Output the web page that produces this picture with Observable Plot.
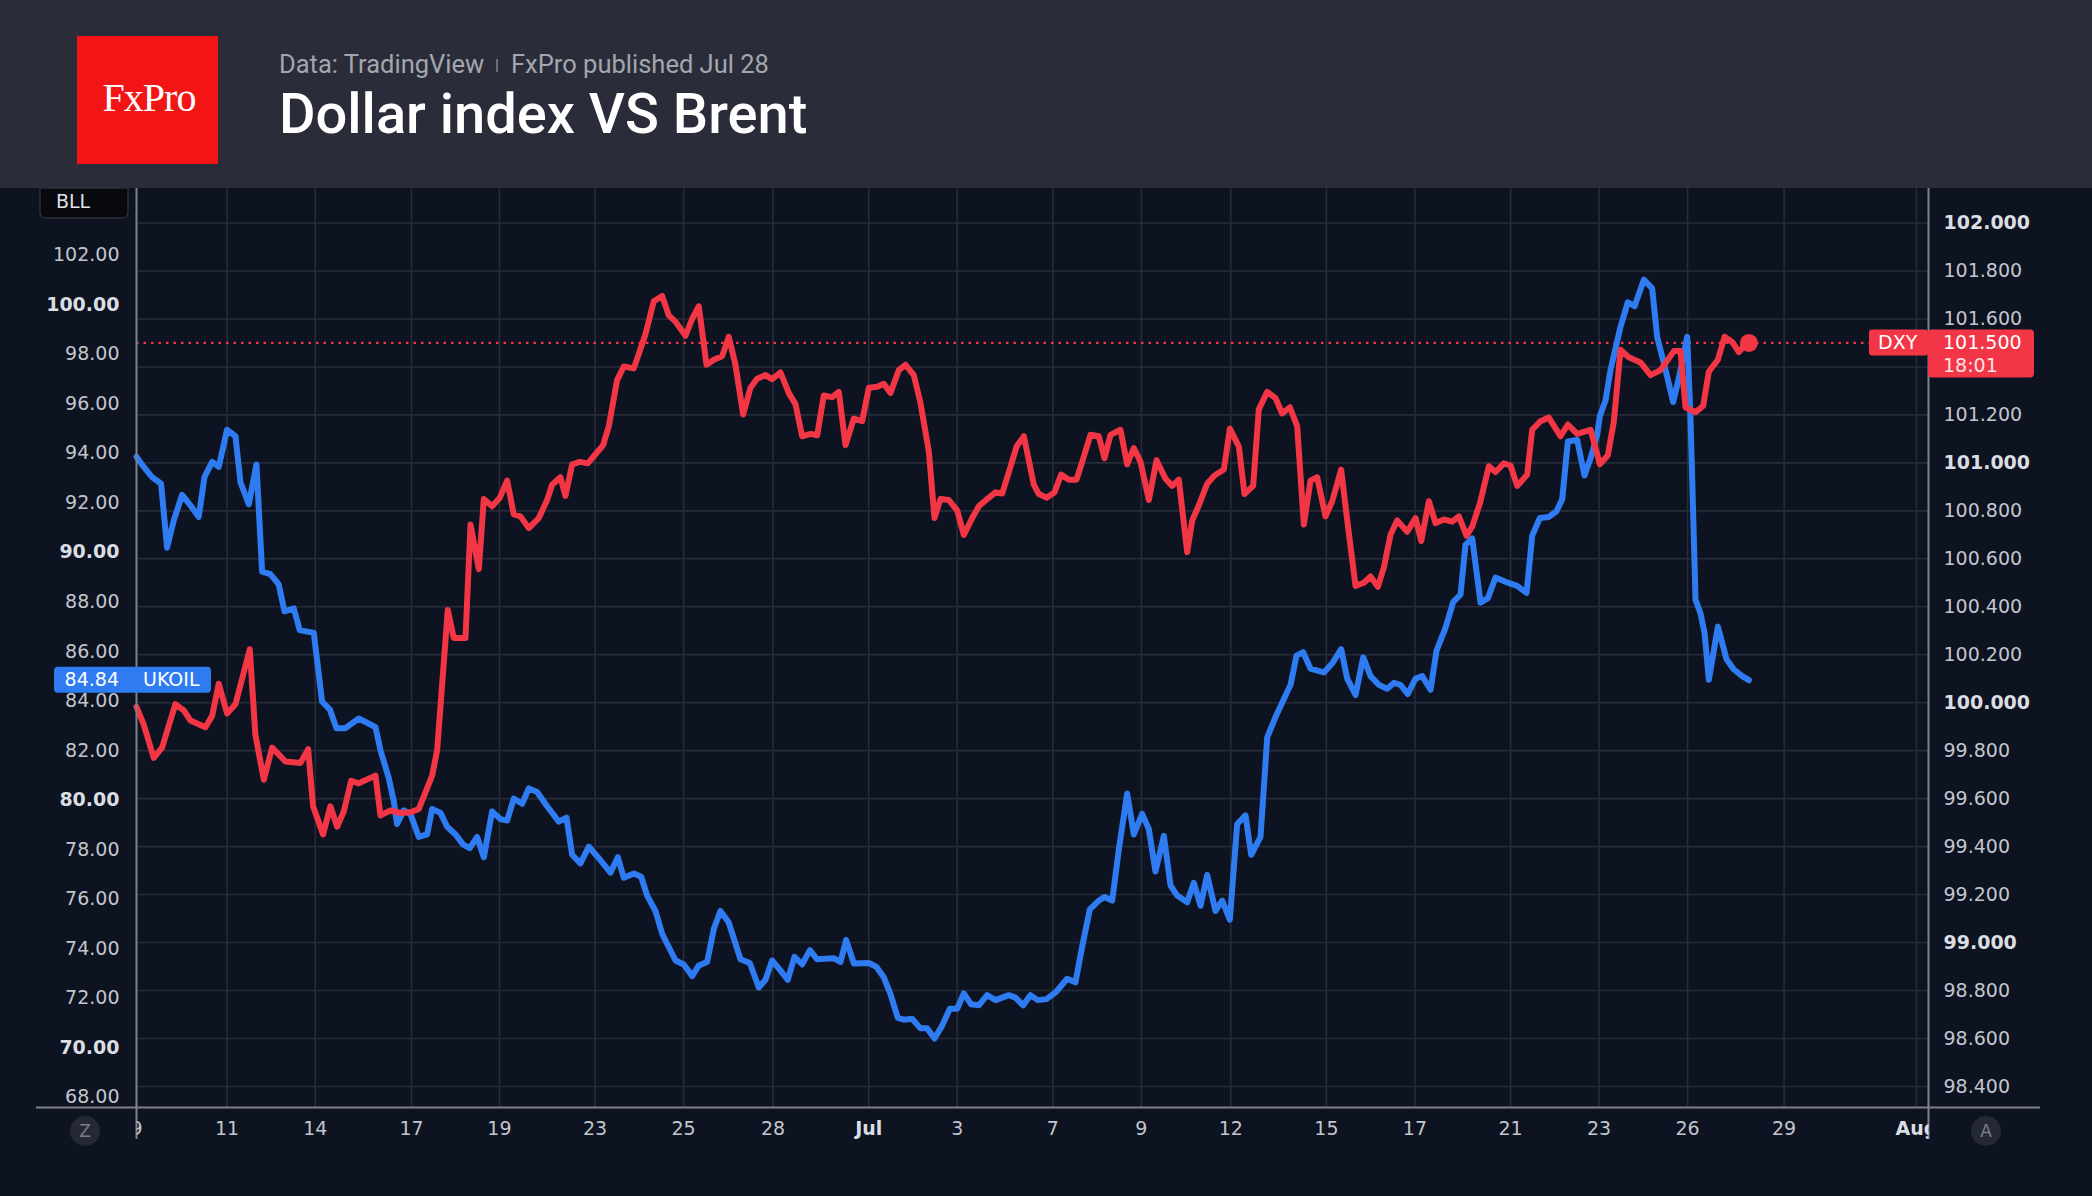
<!DOCTYPE html>
<html><head><meta charset="utf-8">
<script src="https://cdn.jsdelivr.net/npm/d3@7"></script>
<script src="https://cdn.jsdelivr.net/npm/@observablehq/plot@0.6"></script>
<style>
html,body{margin:0;padding:0;background:#0d1320;width:2092px;height:1196px;overflow:hidden;}
#hdr{position:absolute;left:0;top:0;display:block;}
#chart{position:absolute;left:0;top:188px;}
</style></head>
<body>
<svg id="hdr" width="2092" height="188">
  <rect width="2092" height="188" fill="#2a2d39"/>
  <rect x="77" y="36" width="141" height="128" fill="#f31515"/>
  <text x="149" y="111" text-anchor="middle" font-family="Liberation Serif, DejaVu Serif, serif" font-size="40" letter-spacing="-1" fill="#ffffff">FxPro</text>
  <text x="279" y="73" font-family="Roboto" font-size="25.5" fill="#a3a6ae">Data: TradingView</text>
  <line x1="497" x2="497" y1="59" y2="72" stroke="#7d8089" stroke-width="1.6"/>
  <text x="511" y="73" font-family="Roboto" font-size="25.5" fill="#a3a6ae">FxPro published Jul 28</text>
  <text x="279" y="133" font-family="Roboto" font-weight="500" font-size="56" fill="#ffffff">Dollar index VS Brent</text>
</svg>
<div id="chart"></div>
<script>
// ---- data: UKOIL (left scale) ----
const ukoilT = [0,0.81,1.74,2.75,3.42,4.17,5.10,6.03,6.96,7.60,8.46,9.20,10.13,11.07,11.63,12.56,13.42,14.05,14.98,15.91,16.55,17.59,18.26,19.83,20.76,21.62,22.37,23.37,24.86,26.73,27.29,28.22,28.78,29.15,29.90,30.64,31.58,32.51,33.07,34.00,34.75,35.68,36.54,37.28,38.10,38.85,39.78,40.71,41.46,42.20,43.14,43.88,44.81,45.93,47.24,48.10,48.73,49.66,50.59,51.71,53.02,53.84,54.51,55.63,56.45,57.12,58.05,58.80,60.29,61.22,62.15,62.90,63.83,64.58,65.32,66.25,67.56,68.60,69.61,70.36,71.10,71.96,72.85,73.60,74.46,75.32,76.14,78.00,78.75,79.38,80.24,81.92,82.77,83.59,84.34,85.16,85.83,86.76,87.70,88.44,89.26,90.12,90.98,91.80,92.54,93.36,94.22,95.15,96.09,97.58,98.32,99.18,100.00,100.82,101.79,102.80,104.10,105.03,105.78,106.64,107.64,108.28,109.14,109.88,110.81,111.56,112.49,113.24,113.98,114.92,115.66,116.41,117.53,118.27,119.02,119.76,120.70,121.44,122.30,123.12,124.05,124.69,125.73,126.48,127.41,129.09,129.76,130.50,131.32,132.82,133.75,134.75,135.43,136.36,137.22,138.04,138.97,139.90,140.65,141.39,142.21,143.07,143.82,144.75,145.42,146.43,147.28,148.10,148.66,149.41,150.34,151.16,152.02,153.14,154.44,155.49,156.12,156.98,157.98,158.84,159.48,160.11,161.15,161.97,162.65,163.39,163.69,164.32,164.88,166.00,166.82,167.57,168.61,169.54,170.10,171.04,171.89,172.53,173.46,173.83,174.39,174.95,175.40,175.88,176.89,177.86,178.68,179.61,180.36];
const ukoilV = [93.86,93.45,93.04,92.77,90.19,91.29,92.32,91.90,91.43,93.04,93.65,93.45,94.95,94.69,92.83,91.94,93.55,89.22,89.12,88.71,87.62,87.74,86.86,86.75,83.97,83.66,82.90,82.90,83.29,82.94,82.01,80.88,79.95,79.03,79.58,79.44,78.51,78.61,79.64,79.48,78.92,78.61,78.20,78.06,78.51,77.69,79.54,79.23,79.17,80.06,79.85,80.47,80.32,79.75,79.13,79.29,77.79,77.44,78.12,77.65,77.07,77.69,76.86,77.03,76.90,76.14,75.52,74.60,73.52,73.36,72.89,73.32,73.46,74.80,75.52,75.05,73.57,73.42,72.43,72.74,73.52,73.15,72.74,73.67,73.36,73.94,73.57,73.61,73.46,74.35,73.40,73.42,73.26,72.84,72.16,71.20,71.13,71.17,70.78,70.78,70.37,70.89,71.57,71.57,72.19,71.75,71.71,72.12,71.92,72.12,72.02,71.71,72.12,71.92,71.96,72.23,72.78,72.64,74.08,75.58,75.94,76.08,75.94,78.00,80.26,78.61,79.44,78.82,77.11,78.55,76.55,76.14,75.87,76.66,75.73,76.97,75.52,75.94,75.17,79.03,79.38,77.79,78.51,82.53,83.35,84.65,85.83,85.97,85.31,85.15,85.52,86.09,84.90,84.24,85.76,85.00,84.65,84.49,84.73,84.65,84.28,84.90,85.00,84.45,86.03,86.96,87.99,88.30,90.30,90.56,87.97,88.15,88.98,88.81,88.65,88.36,90.67,91.39,91.43,91.66,92.15,94.48,94.54,93.10,93.80,94.75,95.51,96.13,97.36,99.11,100.10,99.94,101.01,100.66,98.70,97.36,96.07,97.05,98.70,95.41,88.09,87.53,86.75,84.86,87.00,85.68,85.27,85.00,84.84];

// ---- data: DXY (right scale) ----
const dxyT = [0,0.81,1.93,2.86,4.35,5.29,6.03,7.71,8.46,9.20,10.13,11.07,12.67,13.30,14.24,15.17,16.66,18.34,19.20,19.75,20.87,21.69,22.44,23.19,24.01,24.86,26.73,27.29,28.41,29.53,30.64,31.58,33.07,33.63,34.82,35.49,36.80,37.36,38.29,38.85,39.78,40.64,41.46,42.20,42.95,43.88,45.00,45.93,46.49,47.42,47.98,48.73,49.59,50.48,51.34,52.20,52.83,53.76,54.51,55.63,56.93,57.86,58.80,59.54,60.29,61.41,62.15,62.90,63.76,64.58,65.51,66.25,67.00,67.86,68.68,69.42,70.36,71.10,72.03,72.97,73.71,74.46,75.39,76.14,76.88,77.81,78.56,79.31,80.24,81.17,81.92,82.85,83.59,84.34,85.27,86.02,86.95,87.70,88.63,89.26,89.93,90.87,91.80,92.54,93.48,94.22,95.15,96.09,96.83,97.76,98.44,99.26,100.37,100.93,101.79,102.68,103.43,104.29,105.15,105.78,106.71,107.64,108.28,108.95,110.07,110.81,111.56,112.31,113.24,114.10,115.10,115.85,116.59,117.53,118.09,118.83,119.76,120.58,121.63,122.30,123.31,123.94,124.91,125.54,126.48,127.41,128.15,129.01,129.83,130.58,131.32,132.07,133.00,133.75,134.75,135.43,136.36,137.29,138.04,138.86,139.53,140.27,141.02,142.14,143.07,143.71,144.56,145.31,146.24,147.17,147.92,148.78,149.41,150.30,151.27,152.02,152.95,153.70,154.44,155.56,156.12,157.05,157.98,159.29,160.11,161.15,162.65,163.69,164.58,165.26,166.00,166.93,168.24,169.36,170.48,171.97,172.71,173.27,174.39,175.25,175.88,176.89,177.64,178.49,179.24,179.80,180.36];
const dxyV = [99.983,99.909,99.770,99.813,99.994,99.968,99.926,99.898,99.945,100.079,99.955,99.994,100.223,99.866,99.679,99.813,99.755,99.749,99.806,99.568,99.451,99.568,99.483,99.547,99.674,99.664,99.696,99.530,99.551,99.540,99.543,99.557,99.696,99.802,100.387,100.270,100.270,100.743,100.557,100.849,100.819,100.855,100.926,100.785,100.777,100.728,100.770,100.845,100.909,100.940,100.862,100.994,101.004,100.998,101.036,101.074,101.153,101.345,101.402,101.394,101.536,101.674,101.696,101.615,101.589,101.530,101.600,101.653,101.409,101.430,101.445,101.526,101.409,101.202,101.313,101.351,101.366,101.349,101.377,101.291,101.245,101.111,101.121,101.115,101.281,101.274,101.296,101.074,101.185,101.174,101.313,101.317,101.330,101.291,101.387,101.409,101.366,101.249,101.047,100.770,100.849,100.845,100.802,100.700,100.770,100.819,100.849,100.877,100.872,100.983,101.068,101.111,100.909,100.870,100.855,100.877,100.951,100.930,100.930,101.004,101.117,101.111,101.019,101.117,101.138,100.994,101.062,101.004,100.845,101.011,100.934,100.904,100.930,100.628,100.760,100.823,100.913,100.947,100.972,101.143,101.068,100.870,100.904,101.223,101.296,101.270,101.206,101.232,101.153,100.743,100.926,100.940,100.777,100.840,100.972,100.760,100.487,100.500,100.526,100.483,100.564,100.700,100.760,100.713,100.770,100.674,100.840,100.749,100.764,100.755,100.777,100.696,100.734,100.835,100.986,100.962,100.998,100.989,100.904,100.951,101.138,101.174,101.189,101.111,101.160,101.121,101.138,100.994,101.032,101.174,101.472,101.440,101.419,101.366,101.387,101.466,101.466,101.232,101.211,101.238,101.381,101.430,101.526,101.504,101.462,101.487,101.500];

// ---- axis ticks / labels ----
const xTickT = [0,10.13,20.0,30.76,40.6,51.3,61.2,71.2,81.9,91.8,102.5,112.4,122.4,133.1,143.0,153.7,163.6,173.5,184.3,199.1];
const xTickLabel = ["9","11","14","17","19","23","25","28","Jul","3","7","9","12","15","17","21","23","26","29","Aug"];
const xTickBold = ["Jul","Aug"];
const leftTicks = [68,70,72,74,76,78,80,82,84,86,88,90,92,94,96,98,100,102];
const rightGrid = [98.4,98.6,98.8,99.0,99.2,99.4,99.6,99.8,100.0,100.2,100.4,100.6,100.8,101.0,101.2,101.4,101.6,101.8,102.0];
const rightTickLabels = [98.4,98.6,98.8,99.0,99.2,99.4,99.6,99.8,100.0,100.2,100.4,100.6,100.8,101.0,101.2,101.6,101.8,102.0];
const lastUkoil = {name: "UKOIL", value: 84.84};
const lastDxy = {name: "DXY", value: 101.5, time: "18:01"};

// DXY values mapped onto the left (UKOIL) scale: linear dual-axis alignment
const DXY_REF = 101, DXY_REF_L = 93.613, DXY_K = 9.6839;
const toL = d => DXY_REF_L + (d - DXY_REF) * DXY_K;

const BLUE = "#2f7bf2", RED = "#f23645", GRID = "#272c38", AXIS = "#7e818a";
const LBL = "#c3c6cd", LBLB = "#dadde2";

const ukoil = ukoilT.map((t, i) => ({t, v: ukoilV[i]}));
const dxy = dxyT.map((t, i) => ({t, v: dxyV[i]}));
const xIdx = xTickT.map((_, i) => i);
const isInt = v => Math.abs(v - Math.round(v)) < 1e-9;

const W = 2092, H = 1008;
const chart = Plot.plot({
  width: W, height: H,
  marginTop: 0, marginLeft: 136, marginRight: 164, marginBottom: 89,
  style: {background: "#0d1320", fontFamily: "DejaVu Sans", overflow: "visible"},
  x: {domain: [0, 200.45]},
  y: {domain: [67.584, 104.692]},
  marks: [
    Plot.ruleY(rightGrid, {y: toL, stroke: GRID, strokeWidth: 1.6}),
    Plot.ruleX(xTickT.slice(1), {stroke: GRID, strokeWidth: 1.6}),
    Plot.ruleY([lastDxy.value], {y: toL, stroke: RED, strokeWidth: 2.2, strokeDasharray: "2.5 5"}),
    Plot.line(ukoil, {x: "t", y: "v", stroke: BLUE, strokeWidth: 6, strokeLinejoin: "round", strokeLinecap: "round"}),
    Plot.line(dxy, {x: "t", y: d => toL(d.v), stroke: RED, strokeWidth: 6, strokeLinejoin: "round", strokeLinecap: "round"}),
    Plot.dot([dxy[dxy.length - 1]], {x: "t", y: d => toL(d.v), r: 9, fill: RED}),
    Plot.ruleX([0, 200.45], {stroke: AXIS, strokeWidth: 2, insetBottom: -32}),
    Plot.ruleY([67.584], {stroke: AXIS, strokeWidth: 2, insetLeft: -100, insetRight: -112}),
    Plot.axisY(leftTicks.filter(v => v % 10 !== 0), {anchor: "left", tickSize: 0, tickPadding: 17, tickFormat: v => v.toFixed(2), fontSize: 19, fill: LBL, label: null}),
    Plot.axisY(leftTicks.filter(v => v % 10 === 0), {anchor: "left", tickSize: 0, tickPadding: 17, tickFormat: v => v.toFixed(2), fontSize: 19, fontWeight: "bold", fill: LBLB, label: null}),
    Plot.axisY(rightTickLabels.filter(v => !isInt(v)), {anchor: "right", y: toL, tickSize: 0, tickPadding: 15, tickFormat: v => v.toFixed(3), fontSize: 19, fill: LBL, label: null}),
    Plot.axisY(rightTickLabels.filter(v => isInt(v)), {anchor: "right", y: toL, tickSize: 0, tickPadding: 15, tickFormat: v => v.toFixed(3), fontSize: 19, fontWeight: "bold", fill: LBLB, label: null}),
    Plot.axisX(xIdx.filter(i => !xTickBold.includes(xTickLabel[i])), {x: i => xTickT[i], tickSize: 0, tickPadding: 14, tickFormat: i => xTickLabel[i], fontSize: 19, fill: LBL, label: null}),
    Plot.axisX(xIdx.filter(i => xTickBold.includes(xTickLabel[i])), {x: i => xTickT[i], tickSize: 0, tickPadding: 14, tickFormat: i => xTickLabel[i], fontSize: 19, fontWeight: "bold", fill: LBLB, label: null})
  ]
});
document.getElementById("chart").appendChild(chart);

// ---- overlays positioned through the plot's scales ----
const svg = d3.select(chart);
const ys = chart.scale("y"), xs = chart.scale("x");
const fL = xs.apply(0), fR = xs.apply(200.45);

// clip x tick labels to the plotting frame (as in the reference)
const defs = svg.insert("defs", ":first-child");
defs.append("clipPath").attr("id", "xclip").append("rect")
  .attr("x", fL).attr("y", 0).attr("width", fR - fL).attr("height", H);
svg.selectAll('g[aria-label="x-axis tick label"]').attr("clip-path", "url(#xclip)");

const g = svg.append("g").attr("font-family", "DejaVu Sans").attr("font-size", 19).attr("text-anchor", "start");

// BLL tab
g.append("path").attr("d", `M40,0 V24 Q40,30 46,30 H122 Q128,30 128,24 V0 Z`)
  .attr("fill", "#07090e").attr("stroke", "#2c303b").attr("stroke-width", 1.5);
g.append("text").attr("x", 56).attr("y", 13).attr("dy", "0.35em").attr("fill", "#dfe1e5").text("BLL");

// UKOIL last value label
const yU = ys.apply(lastUkoil.value);
g.append("rect").attr("x", 54).attr("y", yU - 13).attr("width", 157).attr("height", 26).attr("rx", 4).attr("fill", BLUE);
g.append("text").attr("x", fL - 17).attr("y", yU).attr("dy", "0.35em").attr("text-anchor", "end").attr("fill", "#fff").text(lastUkoil.value.toFixed(2));
g.append("text").attr("x", fL + 7).attr("y", yU).attr("dy", "0.35em").attr("fill", "#fff").text(lastUkoil.name);

// DXY last value label
const yD = ys.apply(toL(lastDxy.value));
g.append("rect").attr("x", fR - 59).attr("y", yD - 13).attr("width", 59).attr("height", 26).attr("rx", 3).attr("fill", RED);
g.append("text").attr("x", fR - 50).attr("y", yD).attr("dy", "0.35em").attr("fill", "#fff").text(lastDxy.name);
g.append("rect").attr("x", fR).attr("y", yD - 13).attr("width", 106).attr("height", 48).attr("rx", 4).attr("fill", RED);
g.append("text").attr("x", fR + 15).attr("y", yD).attr("dy", "0.35em").attr("fill", "#fff").text(lastDxy.value.toFixed(3));
g.append("text").attr("x", fR + 15).attr("y", yD + 23).attr("dy", "0.35em").attr("fill", "#fbe3e6").text(lastDxy.time);

// Z / A buttons
const yB = H - 89 + 24;
[[85, "Z"], [1986, "A"]].forEach(([cx, t]) => {
  g.append("circle").attr("cx", cx).attr("cy", yB).attr("r", 15).attr("fill", "#252935");
  g.append("text").attr("x", cx).attr("y", yB).attr("dy", "0.35em").attr("text-anchor", "middle").attr("font-size", 17).attr("fill", "#7b7e87").text(t);
});
</script>
</body></html>
